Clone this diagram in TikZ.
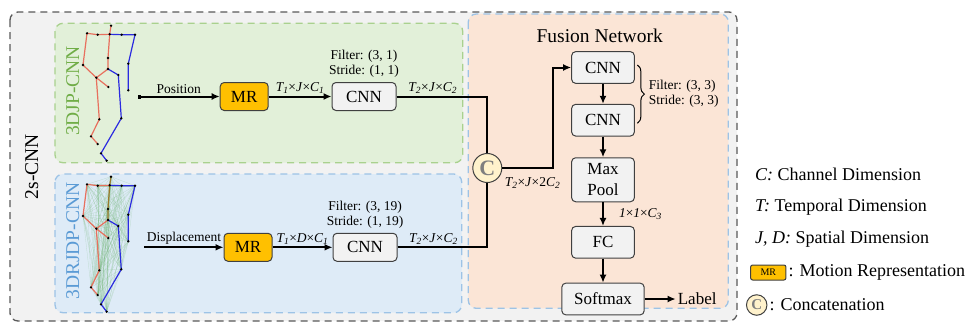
\documentclass[tikz,border=0pt]{standalone}
\usepackage{fontspec}
\setmainfont{Liberation Serif}
\usetikzlibrary{positioning, arrows.meta, decorations.pathreplacing}

\definecolor{outerfill}{HTML}{F2F2F2}
\definecolor{outerline}{HTML}{595959}
\definecolor{greenfill}{HTML}{E2F0D9}
\definecolor{greenline}{HTML}{A9D18E}
\definecolor{bluefill}{HTML}{DEEBF7}
\definecolor{blueline}{HTML}{9DC3E6}
\definecolor{fusionfill}{HTML}{FBE5D6}
\definecolor{mrfill}{HTML}{FFC000}
\definecolor{boxfill}{HTML}{F2F2F2}
\definecolor{boxline}{HTML}{404040}
\definecolor{catfill}{HTML}{FFF2CC}
\definecolor{catletter}{HTML}{7F7F7F}
\definecolor{titlegreen}{HTML}{70AD47}
\definecolor{titleblue}{HTML}{5B9BD5}
\definecolor{skred}{HTML}{E8705E}
\definecolor{skolive}{HTML}{9C7A2C}
\definecolor{skblue}{HTML}{2B2BE0}
\definecolor{skweb}{HTML}{5FAE5F}

\newcommand{\boxfont}{\fontsize{17}{20}\selectfont}
\newcommand{\dimfont}{\fontsize{13.5}{15.3}\selectfont}
\newcommand{\titlefont}{\fontsize{19.5}{22}\selectfont}
\newcommand{\legfont}{\fontsize{18}{20}\selectfont}
\newcommand{\dimsub}[2]{\textit{#1\textsubscript{#2}}}

% joints of one skeleton, shifted down by #1
\newcommand{\drawskel}[3]{%
  \begin{scope}[shift={(0,#1)}]
    \coordinate (head) at (111,25.7);
    \coordinate (neck) at (109.7,34.3);
    \coordinate (lsh) at (97.7,34.7);
    \coordinate (lfar) at (87,33.3);
    \coordinate (rsh) at (121.7,34.7);
    \coordinate (rfar) at (135,34.7);
    \coordinate (spine) at (108,58);
    \coordinate (mid) at (108,69);
    \coordinate (lelb) at (83,65);
    \coordinate (lx) at (96.3,77.7);
    \coordinate (lhand) at (108.3,87);
    \coordinate (relb) at (128.3,63.7);
    \coordinate (rhand) at (128.3,90.3);
    \coordinate (rhip) at (118.3,75);
    \coordinate (rknee) at (121.3,118.3);
    \coordinate (rank) at (101,153.3);
    \coordinate (rfoot) at (106.7,160.7);
    \coordinate (lknee) at (99.3,119.3);
    \coordinate (lank) at (91,136.3);
    \coordinate (lfoot) at (97.7,144);
  \end{scope}
  #3
  \draw[bone, skred] (neck) -- (lsh) -- (lfar) -- (lelb) -- (lx) -- (lhand);
  \draw[bone, skred] (mid) -- (lx) -- (lknee) -- (lank) -- (lfoot);
  \draw[bone, #2] (head) -- (neck) -- (spine) -- (mid);
  \draw[bone, skblue] (neck) -- (rsh) -- (rfar) -- (relb) -- (rhand);
  \draw[bone, skblue] (mid) -- (rhip) -- (rknee) -- (rank) -- (rfoot);
  \foreach \j in {head,neck,lsh,lfar,rsh,rfar,spine,mid,lelb,lx,lhand,relb,rhand,rhip,rknee,rank,rfoot,lknee,lank,lfoot}
    \fill (\j) circle (1.3);
}

% displacement lines between every two joints
\newcommand{\drawweb}{%
  \foreach \a [count=\i] in {head,neck,lsh,lfar,rsh,rfar,spine,mid,lelb,lx,lhand,relb,rhand,rhip,rknee,rank,rfoot,lknee,lank,lfoot}
    \foreach \b [count=\k] in {head,neck,lsh,lfar,rsh,rfar,spine,mid,lelb,lx,lhand,relb,rhand,rhip,rknee,rank,rfoot,lknee,lank,lfoot}
      {\ifnum\i<\k \draw[skweb, opacity=0.25, line width=0.3pt] (\a) -- (\b);\fi}%
}

\begin{document}
\begin{tikzpicture}[x=1pt, y=-1pt,
    panel/.style={line width=1.3pt, dash pattern=on 7pt off 5pt, rounded corners=8pt},
    box/.style={draw=boxline, fill=boxfill, line width=1pt, rounded corners=4pt,
      minimum width=64pt, minimum height=28pt, inner sep=0pt, font=\boxfont},
    mrbox/.style={box, fill=mrfill, minimum width=48pt},
    fbox/.style={box, minimum width=62.7pt, minimum height=31.7pt},
    concat/.style={circle, draw=boxline, fill=catfill, line width=1pt, inner sep=0pt,
      minimum size=29pt, text=catletter, font=\fontsize{22}{24}\selectfont\bfseries},
    dimlabel/.style={font=\dimfont, inner sep=2pt},
    legend/.style={font=\legfont, inner sep=2pt},
    flow/.style={line width=2pt, -{Latex[length=8pt, width=7pt]}},
    link/.style={line width=2pt},
    bone/.style={line width=1.2pt, line join=round},
    brace/.style={decorate, decoration={brace, amplitude=7pt}, line width=1pt},
  ]
\useasboundingbox (0,0) rectangle (968,324);

% panels
\draw[panel, draw=outerline, fill=outerfill] (10,12) rectangle (737,321);
\draw[panel, draw=greenline, fill=greenfill] (55,23.3) rectangle (462.7,162.7);
\draw[panel, draw=blueline, fill=bluefill] (55,174) rectangle (461.7,312.7);
\draw[panel, draw=blueline, fill=fusionfill] (468.3,14) rectangle (728.3,308.3);

\node[rotate=90, font=\titlefont] (twos) at (31.7,166.7) {2s-CNN};
\node[rotate=90, font=\titlefont, text=titlegreen] (jptitle) at (72.7,91) {3DJP-CNN};
\node[rotate=90, font=\titlefont, text=titleblue] (jdptitle) at (72.7,241) {3DRJDP-CNN};
\node[font=\titlefont] (fusiontitle) at (599.7,36) {Fusion Network};

% skeletons
\drawskel{0}{skred}{}
\drawskel{151}{skolive}{\drawweb}

% position stream
\coordinate (posin) at (137.7,96.5);
\node[mrbox] (mrA) at (244.2,96.5) {MR};
\node[box] (cnnA) at (364,96.5) {CNN};
\node[dimlabel, align=center, above=2pt of cnnA] (filterA) {Filter: (3, 1)\\Stride: (1, 1)};
\draw[line width=2pt, {Square[length=3pt, width=4pt]}-{Latex[length=8pt, width=7pt]}]
  (posin) -- node[above, dimlabel] {Position} (mrA);
\draw[flow] (mrA) -- node[above, dimlabel] {\dimsub{T}{1}×\textit{J}×\dimsub{C}{1}} (cnnA);

% displacement stream
\coordinate (dispin) at (144.3,247.3);
\node[mrbox] (mrB) at (248,247.3) {MR};
\node[box] (cnnB) at (365,247.3) {CNN};
\node[dimlabel, align=center, above=2pt of cnnB] (filterB) {Filter: (3, 19)\\Stride: (1, 19)};
\draw[flow] (dispin) -- node[above, dimlabel] {Displacement} (mrB);
\draw[flow] (mrB) -- node[above, dimlabel] {\dimsub{T}{1}×\textit{D}×\dimsub{C}{1}} (cnnB);

% concatenation
\node[concat] (cat) at (487.3,168) {C};
\draw[link] (cnnA) -| node[pos=0.2, above, dimlabel] {\dimsub{T}{2}×\textit{J}×\dimsub{C}{2}} (cat);
\draw[link] (cnnB) -| node[pos=0.2, above, dimlabel] {\dimsub{T}{2}×\textit{J}×\dimsub{C}{2}} (cat);
\node[dimlabel] (catdim) at (532.5,182.7) {\dimsub{T}{2}×\textit{J}×2\dimsub{C}{2}};

% fusion network
\node[fbox] (fcnnA) at (603,67.5) {CNN};
\node[fbox, below=20pt of fcnnA] (fcnnB) {CNN};
\node[fbox, below=20.7pt of fcnnB, minimum height=44pt, align=center,
  font=\fontsize{17}{21.5}\selectfont] (pool) {Max\\Pool};
\node[fbox, below=23.7pt of pool] (fc) {FC};
\node[fbox, below=24pt of fc, minimum width=82.3pt] (soft) {Softmax};
\node[right=31pt of soft, font=\boxfont, inner sep=2pt] (label) {Label};

\draw[flow] (cat) -| ([xshift=-17.7pt]fcnnA.west) -- (fcnnA);
\draw[flow] (fcnnA) -- (fcnnB);
\draw[flow] (fcnnB) -- (pool);
\draw[flow] (pool) -- node[right=13pt, dimlabel] {\textit{1}×\textit{1}×\dimsub{C}{3}} (fc);
\draw[flow] (fc) -- (soft);
\draw[flow] (soft) -- (label);
\draw[brace] ([xshift=2.5pt, yshift=2.5pt]fcnnA.east) -- ([xshift=2.5pt, yshift=-3pt]fcnnB.east)
  node[midway, right=9pt, dimlabel, align=left] {Filter: (3, 3)\\Stride: (3, 3)};

% legend
\node[legend, anchor=west] (legC) at (753,174) {\textit{C:} Channel Dimension};
\node[legend, anchor=west] (legT) at (753,206.7) {\textit{T:} Temporal Dimension};
\node[legend, anchor=west] (legJD) at (753,239.3) {\textit{J, D:} Spatial Dimension};
\node[mrbox, minimum width=35.3pt, minimum height=15pt, rounded corners=2pt,
  font=\fontsize{10}{12}\selectfont] (legMR) at (768.3,272.5) {MR};
\node[legend, right=0pt of legMR] (legMRtxt) {: Motion Representation};
\node[concat, minimum size=20.5pt, font=\fontsize{15}{17}\selectfont\bfseries] (legcat) at (756.7,305) {C};
\node[legend, right=0pt of legcat] (legcattxt) {: Concatenation};
\end{tikzpicture}
\end{document}
